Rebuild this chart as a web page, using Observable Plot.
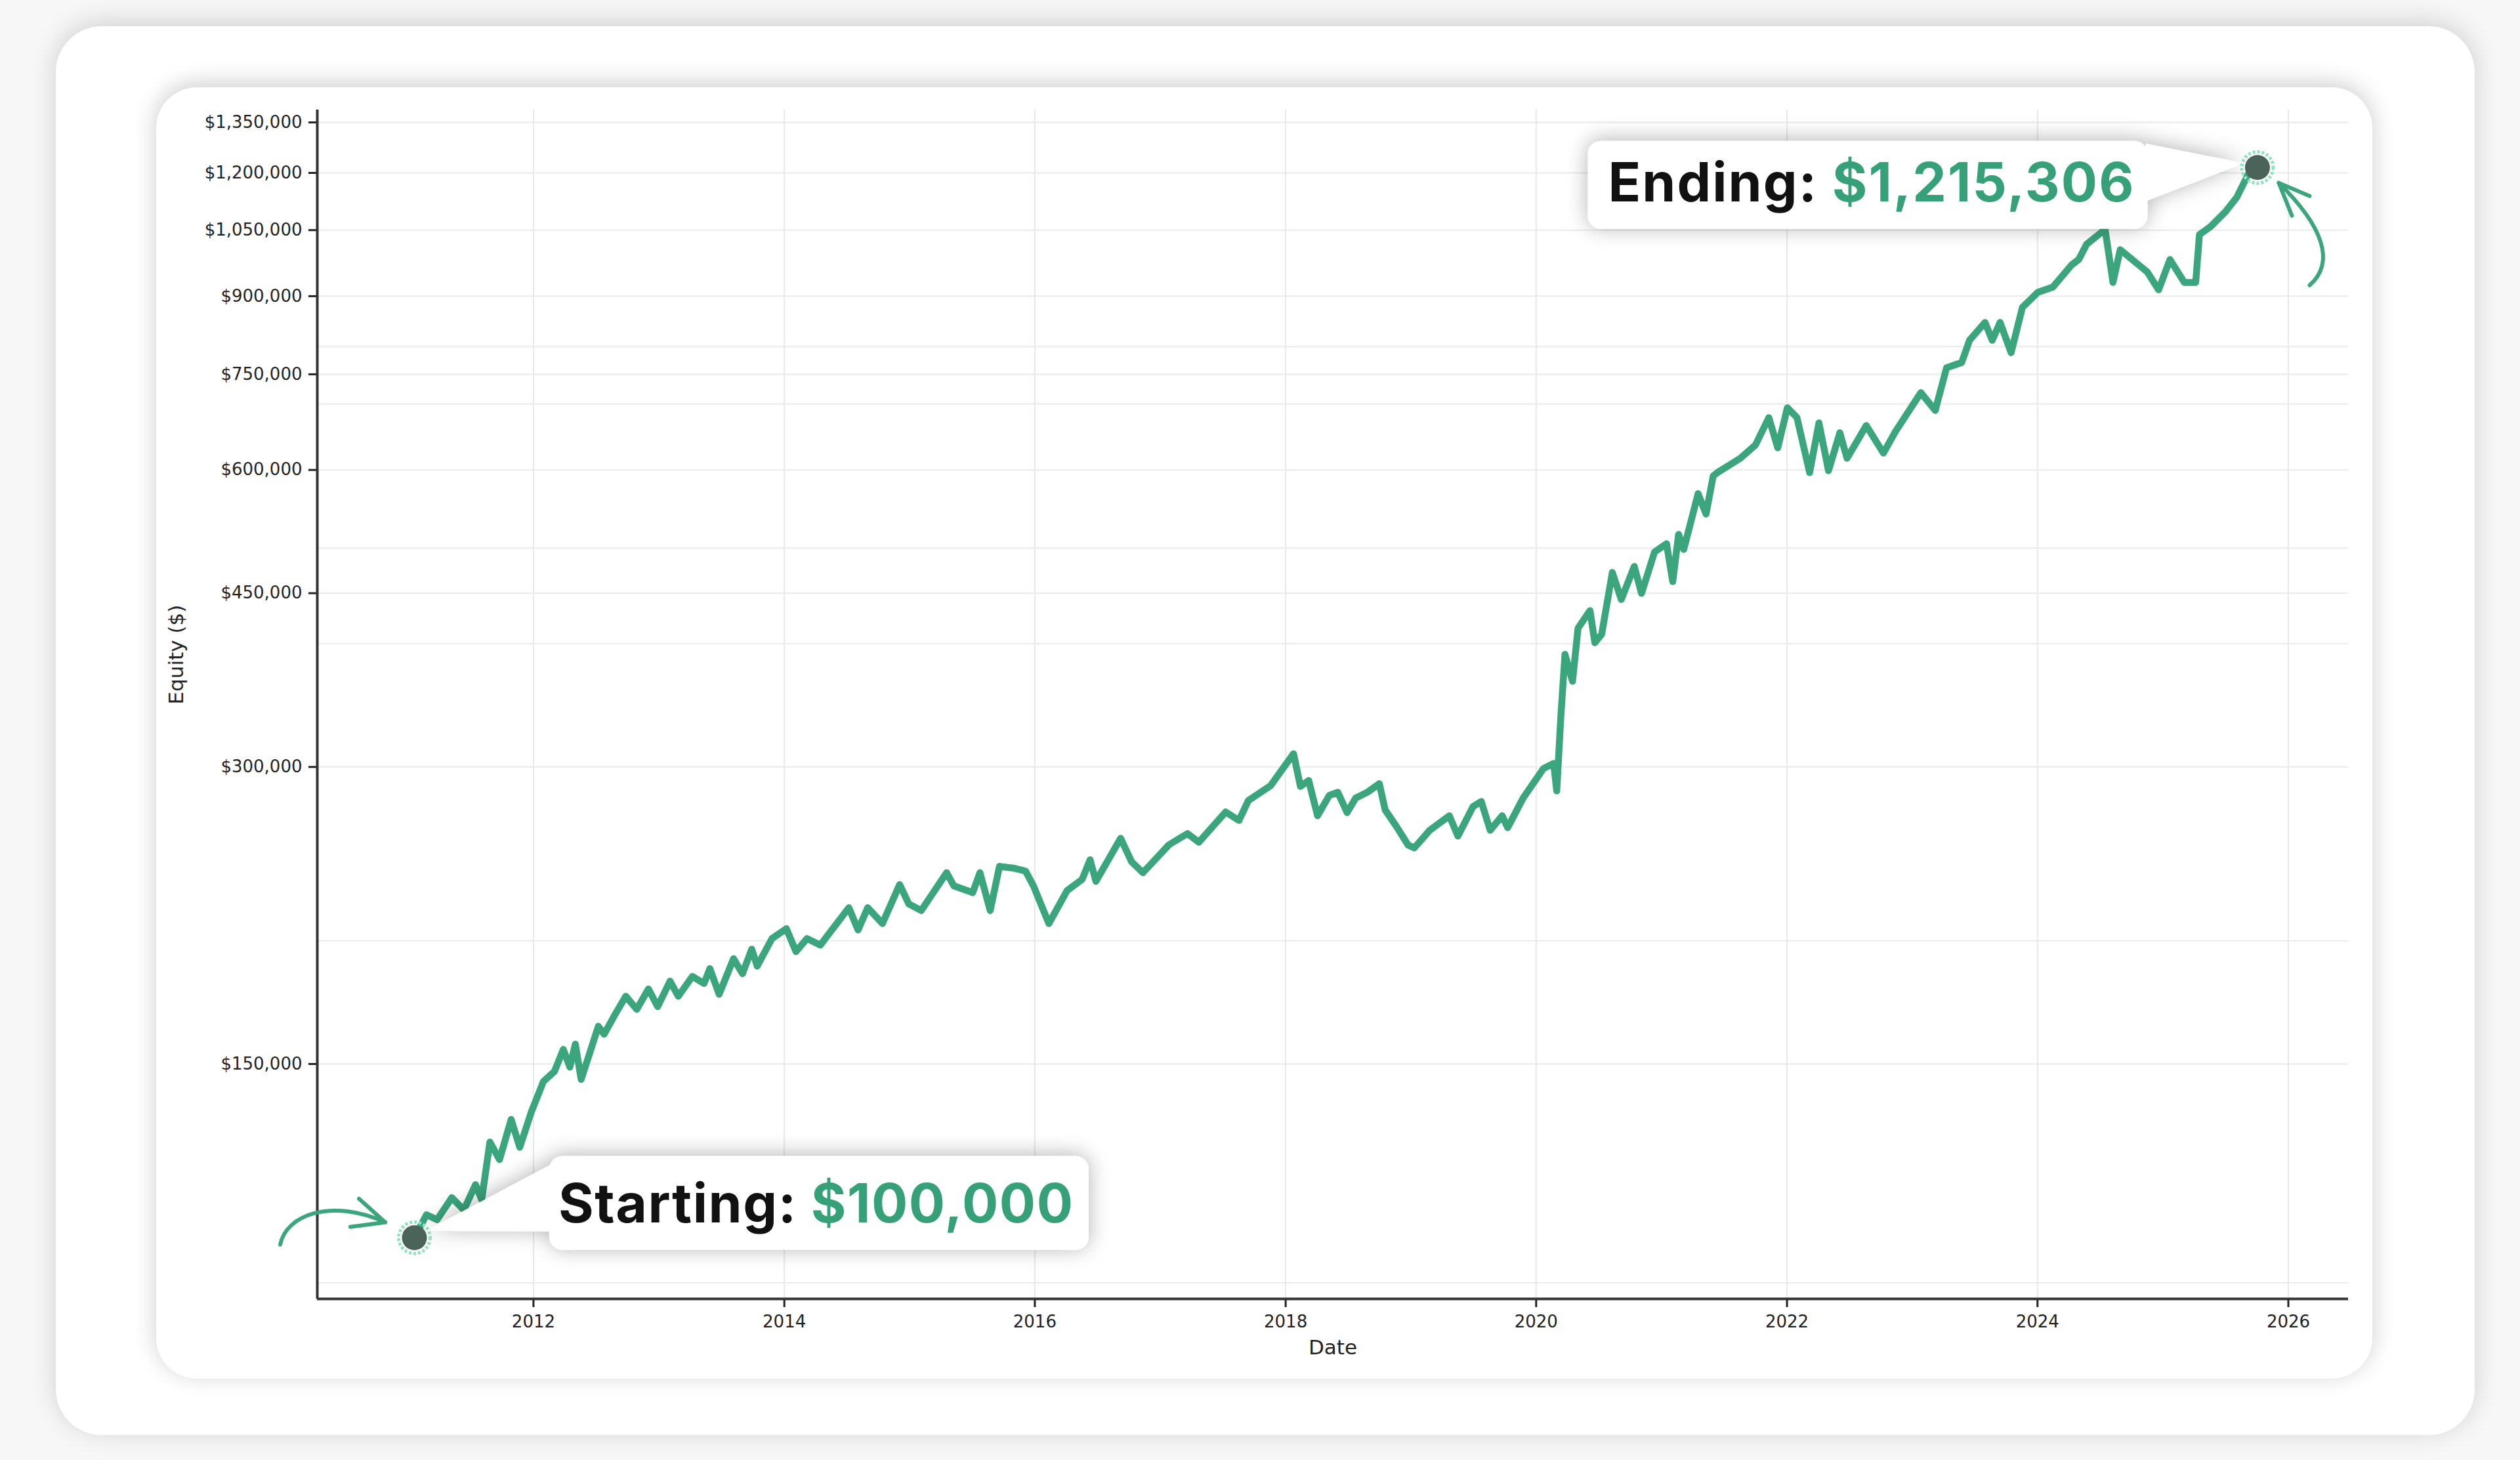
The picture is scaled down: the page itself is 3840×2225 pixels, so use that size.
<!DOCTYPE html>
<html>
<head>
<meta charset="utf-8">
<script src="https://cdn.jsdelivr.net/npm/d3@7"></script>
<script src="https://cdn.jsdelivr.net/npm/@observablehq/plot@0.6"></script>
<style>
  html, body { margin: 0; padding: 0; }
  body { width: 3840px; height: 2225px; background: #f7f7f7; position: relative; overflow: hidden; }
  .card { position: absolute; background: #ffffff; }
  #outer { left: 85px; top: 40px; width: 3686px; height: 2147px; border-radius: 70px; box-shadow: 0 -6px 40px rgba(0,0,0,0.16); }
  #inner { left: 238px; top: 133px; width: 3377px; height: 1968px; border-radius: 62px; box-shadow: 0 -6px 36px rgba(0,0,0,0.20); }
  #chart { position: absolute; left: 0; top: 0; }
  #chart svg { display: block; }
</style>
</head>
<body>
<div id="outer" class="card"></div>
<div id="inner" class="card"></div>
<div id="chart"></div>
<script>
// ---------------- data ----------------
const dates = [
  "2011-01-19","2011-02-23","2011-03-26","2011-05-08","2011-06-12","2011-07-16","2011-08-03","2011-08-27",
  "2011-09-24","2011-10-28","2011-11-22","2011-12-26","2012-01-30","2012-03-02","2012-03-28","2012-04-16",
  "2012-05-02","2012-05-19","2012-07-08","2012-07-25","2012-08-22","2012-09-26","2012-10-28","2012-12-01",
  "2012-12-28","2013-02-02","2013-02-26","2013-04-08","2013-05-12","2013-05-29","2013-06-25","2013-08-06",
  "2013-09-01","2013-09-28","2013-10-14","2013-11-26","2014-01-07","2014-02-04","2014-03-08","2014-04-16",
  "2014-07-08","2014-08-04","2014-09-01","2014-10-14","2014-12-03","2014-12-30","2015-02-04","2015-04-19",
  "2015-05-10","2015-07-04","2015-07-25","2015-08-24","2015-09-20","2015-11-03","2015-12-05","2015-12-28",
  "2016-02-11","2016-04-04","2016-05-18","2016-06-10","2016-06-27","2016-09-07","2016-10-09","2016-11-11",
  "2017-01-26","2017-03-21","2017-04-23","2017-07-10","2017-08-18","2017-09-14","2017-11-18","2018-01-24",
  "2018-02-13","2018-03-09","2018-04-04","2018-05-08","2018-06-02","2018-06-29","2018-07-24","2018-08-27",
  "2018-10-01","2018-10-18","2018-11-22","2018-12-24","2019-01-11","2019-02-25","2019-04-23","2019-05-18",
  "2019-07-01","2019-07-25","2019-08-20","2019-09-24","2019-10-10","2019-11-24","2020-01-22","2020-02-21",
  "2020-03-01","2020-03-13","2020-03-25","2020-04-16","2020-05-02","2020-06-06","2020-06-20","2020-07-10",
  "2020-08-10","2020-09-05","2020-10-13","2020-11-03","2020-12-11","2021-01-15","2021-02-02","2021-02-19",
  "2021-03-06","2021-04-17","2021-05-10","2021-05-31","2021-06-12","2021-08-18","2021-10-01","2021-11-09",
  "2021-12-05","2022-01-02","2022-01-30","2022-03-08","2022-04-04","2022-05-02","2022-06-04","2022-06-25",
  "2022-08-20","2022-10-09","2022-11-11","2023-01-26","2023-03-09","2023-04-11","2023-05-25","2023-06-17",
  "2023-08-01","2023-08-22","2023-09-14","2023-10-16","2023-11-18","2024-01-02","2024-02-15","2024-04-10",
  "2024-04-30","2024-05-23","2024-07-16","2024-08-08","2024-08-29","2024-11-16","2024-12-19","2025-01-21",
  "2025-03-04","2025-04-06","2025-04-17","2025-05-19","2025-07-02","2025-08-04","2025-09-08","2025-10-03"
];
const equity = [
  100000,105500,104300,109800,106700,113200,109300,125000,
  120000,131800,123500,134200,144000,147400,155200,148900,
  157100,144700,163800,160800,167500,175700,170400,178700,
  171500,182000,175700,184000,181000,187400,176500,191800,
  185200,196100,188500,201000,205700,195000,201000,198000,
  216000,205100,216000,208200,228000,217900,214600,234400,
  227300,223800,234400,214600,237900,236800,235300,227300,
  208200,224800,230800,241600,229700,254000,240500,234400,
  250200,256800,251700,270100,264800,277300,287200,309400,
  286700,290700,267700,280700,282800,269700,279000,282800,
  288500,271400,260400,250000,248400,258800,267700,255300,
  273500,276800,258800,267700,260400,279000,298800,302500,
  283700,337800,390100,366400,414700,432100,400900,409000,
  472400,443500,479000,449800,495400,505100,462400,516100,
  498400,567700,541300,591600,596200,616600,635800,677900,
  631800,693700,677900,596200,669600,598900,654400,616600,
  665500,624100,654400,718600,689400,761500,770900,812000,
  846500,812000,846500,788900,876700,908200,919400,968500,
  980400,1015600,1051900,929300,1003100,952200,913600,980400,
  929300,929300,1039200,1058400,1096400,1133900,1200000,1215306
];
const yTicks = [150000, 300000, 450000, 600000, 750000, 900000, 1050000, 1200000, 1350000];
const yMinorGrid = [90000, 200000, 400000, 500000, 700000, 800000];
const xTicks = ["2012-01-01","2014-01-01","2016-01-01","2018-01-01","2020-01-01","2022-01-01","2024-01-01","2026-01-01"];
const xDomain = ["2010-04-11", "2026-06-25"];
const yDomain = [86700, 1390000];
const axisLabels = { x: "Date", y: "Equity ($)" };
const calloutLabels = { start: "Starting: ", end: "Ending: " };

// ---------------- styles ----------------
const GREEN = "#3ba57d";
const TEXT_GREEN = "#36a078";
const DOT = "#4b6459";
const RING = "#8fe3c0";

const data = dates.map((d, i) => ({ date: new Date(d), equity: equity[i] }));
const ends = [data[0], data[data.length - 1]];
const fmt = d3.format("$,.0f");
const xt = xTicks.map(d => new Date(d));
const xd = xDomain.map(d => new Date(d));

const chart = Plot.plot({
  width: 3840,
  height: 2225,
  marginLeft: 483,
  marginRight: 262,
  marginTop: 167,
  marginBottom: 246,
  style: { background: "transparent", fontFamily: "'DejaVu Sans', sans-serif", fontSize: "26px", color: "#222", overflow: "visible" },
  x: { type: "utc", domain: xd },
  y: { type: "log", domain: yDomain },
  marks: [
    Plot.gridX(xt, { stroke: "#e8e8e8", strokeOpacity: 1, strokeWidth: 2 }),
    Plot.gridY(yTicks.concat(yMinorGrid), { stroke: "#eaeaea", strokeOpacity: 1, strokeWidth: 2 }),
    Plot.axisX(xt, { tickFormat: d3.utcFormat("%Y"), tickSize: 13, tickPadding: 12, strokeWidth: 3, label: null, fontSize: 26 }),
    Plot.axisY(yTicks, { tickFormat: fmt, tickSize: 13, tickPadding: 10, strokeWidth: 3, label: null, fontSize: 26 }),
    Plot.ruleX([xd[0]], { stroke: "#333", strokeWidth: 4 }),
    Plot.ruleY([yDomain[0]], { stroke: "#333", strokeWidth: 4 }),
    Plot.line(data, { x: "date", y: "equity", stroke: GREEN, strokeWidth: 10.5, strokeLinejoin: "round", strokeLinecap: "round" }),
    Plot.text([axisLabels.x], { frameAnchor: "bottom", dy: 84, fontSize: 31, fill: "#222" }),
    Plot.text([axisLabels.y], { frameAnchor: "left", dx: -214, rotate: -90, fontSize: 31, fill: "#222" }),
    Plot.dot(ends, { x: "date", y: "equity", r: 24, fill: "none", stroke: RING, strokeWidth: 5, strokeDasharray: "4 3" }),
    Plot.dot(ends, { x: "date", y: "equity", r: 19, fill: DOT, stroke: "none" })
  ]
});
document.getElementById("chart").appendChild(chart);

// ---------------- callouts & arrows, positioned from the scales ----------------
const sx = chart.scale("x"), sy = chart.scale("y");
const svg = d3.select(chart);
const defs = svg.append("defs");
defs.append("filter").attr("id", "callShadow").attr("x", "-20%").attr("y", "-60%").attr("width", "140%").attr("height", "220%")
  .append("feDropShadow").attr("dx", 0).attr("dy", -2).attr("stdDeviation", 16).attr("flood-color", "#000").attr("flood-opacity", 0.3);

const firstDot = chart.querySelector('g[aria-label="dot"]');
const annot = document.createElementNS("http://www.w3.org/2000/svg", "g");
chart.insertBefore(annot, firstDot);
const A = d3.select(annot);

function callout(pt, spec, label, value) {
  const px = sx.apply(pt.date), py = sy.apply(pt.equity);
  const g = A.append("g").attr("transform", `translate(${px},${py})`);
  const sh = g.append("g").attr("filter", "url(#callShadow)");
  const [bx0, bx1, by0, by1] = spec.box;
  sh.append("rect").attr("x", bx0).attr("y", by0).attr("width", bx1 - bx0).attr("height", by1 - by0)
    .attr("rx", 20).attr("fill", "#fff");
  sh.append("path").attr("d", "M" + spec.tail.map(p => p.join(",")).join("L") + "Z").attr("fill", "#fff");
  const t = g.append("text").attr("x", spec.text[0]).attr("y", spec.text[1])
    .attr("text-anchor", "start")
    .attr("font-family", "Inter, 'Open Sans', sans-serif").attr("font-weight", 700).attr("font-size", 82)
    .attr("textLength", spec.width).attr("lengthAdjust", "spacing");
  t.append("tspan").attr("fill", "#111").text(label);
  t.append("tspan").attr("fill", TEXT_GREEN).text(fmt(value));
  const ar = g.append("g").attr("fill", "none").attr("stroke", GREEN).attr("stroke-width", 6)
    .attr("stroke-linecap", "round").attr("stroke-linejoin", "round");
  ar.append("path").attr("d", spec.arrow);
  ar.append("path").attr("d", spec.head);
}

callout(ends[0], {
  box: [206, 1028, -124, 19],
  tail: [[18, -10], [210, -112], [210, -9]],
  text: [220, -23], width: 784,
  arrow: "M-204,11 C-195,-35 -125,-60 -44,-23",
  head: "M-84,-59 L-44,-23 L-97,-16"
}, calloutLabels.start, ends[0].equity);

callout(ends[1], {
  box: [-1020, -167, -40, 94],
  tail: [[-170, -36], [-20, -6], [-170, 52]],
  text: [-989, 52], width: 801,
  arrow: "M80,180 C120,145 100,90 33,24",
  head: "M80,44 L33,24 L53,74"
}, calloutLabels.end, ends[1].equity);
</script>
</body>
</html>
